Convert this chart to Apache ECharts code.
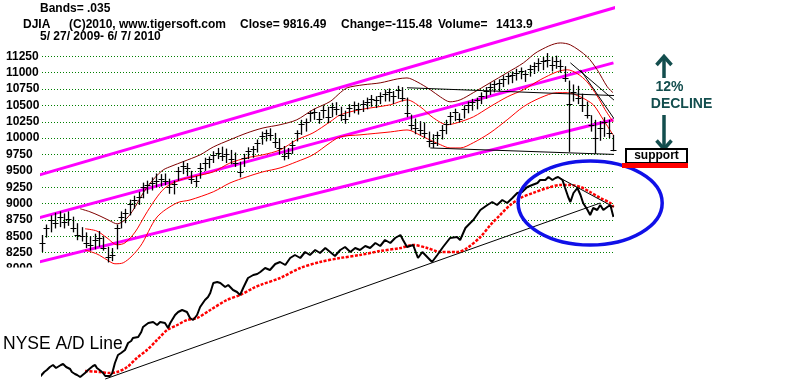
<!DOCTYPE html>
<html><head><meta charset="utf-8">
<script src="https://cdn.jsdelivr.net/npm/echarts@6.0.0/dist/echarts.min.js"></script>
<style>html,body{margin:0;padding:0;background:#fff}#c{width:800px;height:390px}</style>
</head><body><div id="c"></div>
<script>
// ---- price bars (slot index 0..130, 5/27/2009 - 6/7/2010) ----
const barHigh = [8520,8680,8820,8860,8880,8850,8880,8800,8700,8640,8560,8500,8540,8580,8500,8340,8320,8680,8880,8920,
9060,9120,9180,9320,9350,9400,9460,9450,9460,9380,9350,9560,9650,9620,9500,9420,9620,9700,9720,9800,
9850,9870,9840,9820,9780,9640,9760,9860,9880,9980,10100,10130,10150,10080,10000,9880,9850,9960,10120,10280,
10300,10420,10450,10400,10500,10480,10540,10550,10480,10420,10520,10560,10540,10580,10620,10660,10640,10700,10740,10760,
10720,10800,10780,10620,10360,10300,10260,10240,10100,10060,10100,10200,10280,10400,10450,10380,10500,10560,10600,10620,
10700,10780,10840,10880,10900,10960,11000,11020,11060,11080,11040,11120,11160,11220,11240,11300,11240,11260,11200,11100,
10880,10820,10800,10680,10560,10350,10280,10260,10320,10280,10050];
const barLow = [8260,8480,8560,8620,8640,8620,8660,8560,8440,8420,8320,8280,8300,8340,8280,8100,8120,8300,8620,8700,
8820,8920,8980,9080,9150,9200,9250,9260,9280,9150,9140,9350,9450,9420,9300,9250,9380,9500,9540,9620,
9680,9650,9620,9600,9560,9400,9560,9680,9700,9780,9900,9950,9960,9850,9750,9660,9680,9760,9950,10050,
10100,10250,10280,10220,10300,10230,10320,10350,10260,10220,10320,10380,10360,10400,10440,10480,10460,10520,10560,10560,
10520,10600,10560,10320,10120,10060,10040,10000,9860,9850,9880,9980,10060,10200,10260,10240,10300,10380,10420,10440,
10520,10600,10660,10700,10720,10780,10820,10840,10880,10900,10860,10940,10980,11020,11040,11080,11020,11060,11000,10860,
9790,10560,10520,10400,10300,10100,9760,9960,10020,10000,9800];
const barClose = [8400,8620,8750,8700,8800,8720,8760,8620,8520,8500,8400,8360,8450,8480,8320,8180,8220,8620,8800,8850,
9000,9050,9100,9250,9280,9320,9350,9380,9350,9250,9300,9500,9580,9550,9380,9340,9550,9620,9680,9750,
9780,9720,9760,9680,9620,9480,9700,9800,9840,9920,10040,10080,10050,9940,9850,9720,9780,9900,10080,10220,
10250,10380,10400,10300,10430,10320,10480,10450,10350,10300,10460,10500,10450,10520,10560,10600,10580,10640,10680,10700,
10650,10740,10620,10380,10200,10150,10120,10080,9950,9920,10050,10120,10220,10340,10400,10300,10440,10500,10550,10580,
10650,10720,10780,10820,10850,10900,10950,10970,11000,11030,10980,11060,11100,11150,11180,11200,11120,11180,11100,10920,
10520,10700,10620,10500,10360,10200,10000,10150,10250,10080,9816];

// ---- 21-day band lines: [slot, value] ----
const upperBand = [[8.7,8920],[10.9,8875],[13.2,8810],[15.5,8735],[17.1,8690],[18.9,8750],[20.5,8875],[23.5,9210],[25.7,9395],[27.6,9515],[29.6,9575],[32.1,9640],[36,9745],[39,9865],[42.8,9975],[46.7,10080],[50.3,10155],[54.2,10205],[58,10280],[61.7,10435],[65.6,10560],[68,10700],[69.5,10770],[73.1,10815],[77,10845],[80.9,10905],[83.1,10920],[85.4,10860],[88.4,10740],[90.7,10630],[92.9,10555],[95.2,10585],[98.2,10695],[102,10845],[105.9,11000],[109.6,11150],[112.8,11320],[118,11455],[120.3,11425],[124.1,11245],[126.4,11045],[128.7,10785],[130,10695]];
const midAvg = [[9.8,8615],[12.5,8580],[14.8,8475],[17.1,8370],[18.9,8400],[21.2,8565],[23.5,8825],[25.7,9055],[28,9240],[31.4,9360],[35,9420],[39,9485],[42.8,9620],[46.7,9700],[50.3,9745],[54.2,9820],[58,9975],[61.7,10080],[65.6,10250],[67.9,10355],[72.4,10435],[79.3,10510],[83.1,10585],[86.1,10480],[89.1,10310],[92.3,10205],[94.5,10235],[98.2,10325],[102,10480],[105.9,10630],[109.6,10740],[113.4,10890],[117.3,11015],[119.6,11045],[121.9,10985],[124.1,10860],[126.4,10645],[128.2,10435],[130,10250]];
const lowerBand = [[9.8,8290],[12.5,8230],[14.8,8140],[16.6,8080],[18.5,8095],[22.3,8340],[26.2,8795],[30.7,9010],[33.7,9055],[39,9180],[42.8,9315],[46.7,9410],[50.3,9485],[54.2,9545],[58,9640],[61.7,9745],[65.6,9930],[67.9,10020],[72.4,10050],[79.3,10095],[83.1,10125],[86.8,10020],[90.7,9900],[92.9,9850],[95.2,9850],[98.2,9930],[102,10080],[105.9,10280],[109.6,10480],[113.4,10615],[117.3,10695],[119.6,10695],[122.6,10630],[125.5,10510],[127.8,10280],[130,10050]];

// ---- channel lines and drawn trend lines on price panel ----
const channelTop = [[-2.05,9409],[146,12298]];
const channelMid = [[-1.6,8766],[130.1,11151]];
const channelLow = [[-1.6,8093],[130.1,10280]];
const resistLine = [[83.1,10770],[138.5,10630]];
const supportLine = [[88.4,9850],[132.8,9745]];
const peakLine1 = [[120.3,11151],[140.8,9974]];
const peakLine2 = [[122.6,11044],[133.3,9997]];

// ---- NYSE A/D line (arbitrary units) ----
const adLine = [[-0.5,500],[0.5,1000],[1.1,1200],[1.8,1500],[2.5,1700],[3.2,1400],[3.6,1400],[4.3,1700],[4.8,1800],[5.5,1500],[5.9,1600],[6.4,1300],[6.8,1000],[7.5,800],[8,700],[8.7,500],[9.1,400],[9.8,900],[10.5,1200],[10.9,1400],[11.6,1600],[12.1,1700],[12.5,1400],[12.8,1300],[13.4,1100],[13.9,900],[14.4,600],[14.8,400],[15.5,600],[16,900],[16.6,1900],[17.3,2700],[18,2900],[18.9,3200],[19.6,3900],[20.3,4100],[20.7,4400],[21.9,4500],[22.6,5000],[23,5500],[24.2,5900],[24.6,5700],[25.3,6000],[26.2,5700],[26.9,6000],[28,5900],[28.7,5400],[29.2,5900],[30.3,6700],[31,7000],[31.9,7200],[33,7000],[33.7,6400],[34.4,6200],[35.3,6700],[36,7500],[37.1,8200],[37.8,8500],[38.3,8900],[39,9900],[39.9,10000],[40.6,9900],[41.7,9500],[42.4,9700],[43.5,9200],[44.4,9000],[45.1,8700],[45.8,9400],[46.9,10400],[48.1,10700],[49,10800],[49.7,11000],
[50.8,11400],[51.9,11200],[53.1,11800],[54.2,12000],[55.4,11700],[56.5,12400],[57.6,12700],[58.8,12400],[59.9,13000],[61,12700],[62.2,13200],[63.3,12900],[64.5,13400],[65.6,13000],[66.7,12600],[67.9,13200],[69,13500],[70.2,13000],[71.3,13400],[72.4,13200],[73.6,13600],[74.7,13400],[75.9,13900],[77,13600],[78.1,14200],[79.3,13900],[80.4,14400],[81.6,14700],
[82.2,14200],[83.1,13500],[84.5,13700],[85.6,12400],[86.6,13000],[87.7,12500],[88.8,12000],[90,12700],[91.3,13500],[92.9,14400],[94.5,14500],[95.2,14200],[96.4,15400],[97.5,15900],[98.2,16200],[99.8,17200],[101.4,17700],[102.5,18000],[103.6,17700],[104.8,18200],[105.9,17900],[107.1,18400],[108.2,18900],[109.3,19000],[110.5,19500],[111.6,19700],[112.8,19900],[113.4,20200],[114.6,20200],[115.3,20500],[116.2,20200],[116.9,20400],[117.5,20500],[118.5,20200],[119.1,19400],[119.8,18500],[120.3,18000],[121,18900],[121.9,19400],[122.6,18700],[123.2,17900],[124.2,17200],[124.8,16700],[125.5,17400],[126.4,17200],[127.1,17700],[127.8,17200],[128.7,17500],[129.4,17700],[130.1,16500]];
const adAvg = [[9.8,1100],[13.2,1000],[15.5,900],[17.1,1000],[19.4,1500],[21.6,2400],[23.9,3200],[26.2,4200],[28.5,5200],[30.8,5700],[33,6200],[35.3,6400],[38.3,7200],[42.1,8200],[45.1,8700],[48.1,9400],[49.7,9700],[54.2,10400],[58.8,11400],[63.3,12000],[67.9,12400],[72.4,12700],[77,13100],[81.6,13400],[84.5,13700],[87.7,13400],[90.7,13000],[94.5,13000],[96.8,13400],[99.8,14500],[102.1,15700],[104.3,16700],[106.6,17700],[108.9,18400],[111.8,18900],[115,19400],[118,19700],[120.3,19700],[122.6,19500],[124.8,19000],[127.1,18400],[129.4,17900],[130.1,17500]];
const adTrend = [[14.4,300],[127.1,17900]];
const adArrow = [[117.5,20500],[136.9,15900]];
const adArrowHead = [[133.5,16000],[136.9,15900],[134.9,17100]];
const adCircle = [[124.8,17900,16.4,4200]];

const yTickMin = 8000, yTickMax = 11500, yTickStep = 250;

const FONT = '"Liberation Sans", Arial, sans-serif';
const chart = echarts.init(document.getElementById('c'), null, {renderer:'canvas'});

function lineSeries(data, color, width, xi, extra){
  return Object.assign({type:'line', data, xAxisIndex:xi, yAxisIndex:xi, symbol:'none', clip:false,
    lineStyle:{color, width}, silent:true, z:3}, extra||{});
}

const option = {
  animation:false,
  backgroundColor:'#fff',
  grid:[{left:42,right:187,top:40,bottom:121,outerBoundsMode:'none'},{left:42,right:187,top:170,bottom:8,outerBoundsMode:'none'}],
  xAxis:[
    {gridIndex:0,type:'value',min:0,max:130,show:false},
    {gridIndex:1,type:'value',min:0,max:130,show:false}
  ],
  yAxis:[
    {gridIndex:0,type:'value',min:yTickMin,max:yTickMax,interval:yTickStep,
      axisLine:{show:false},axisTick:{show:false},
      axisLabel:{show:true,align:'left',margin:36,fontWeight:'bold',fontSize:12,color:'#000',fontFamily:FONT,showMaxLabel:false,
        formatter:v=>String(v)},
      splitLine:{show:true,showMinLine:false,showMaxLine:false,lineStyle:{color:'#008000',type:[1,2],width:1}}},
    {gridIndex:1,type:'value',min:0,max:21200,show:false,splitLine:{show:false}}
  ],
  series:[
    lineSeries(channelTop,'#ff00ff',3,0),
    lineSeries(channelMid,'#ff00ff',3,0),
    lineSeries(channelLow,'#ff00ff',3,0),
    lineSeries(upperBand,'#800000',1,0,{smooth:0.3}),
    lineSeries(midAvg,'#ff0000',1,0,{smooth:0.3}),
    lineSeries(lowerBand,'#ff0000',1,0,{smooth:0.3}),
    lineSeries(resistLine,'#000',1,0),
    lineSeries(supportLine,'#000',1,0),
    lineSeries(peakLine1,'#000',1,0),
    lineSeries(peakLine2,'#000',1,0),
    {type:'custom', xAxisIndex:0, yAxisIndex:0, z:4, silent:true,
      data: barClose.map((c,i)=>[i,barHigh[i],barLow[i],c]),
      encode:{x:0,y:[1,2,3]},
      renderItem(params, api){
        const x = api.value(0);
        const hi = api.coord([x, api.value(1)]);
        const lo = api.coord([x, api.value(2)]);
        const cl = api.coord([x, api.value(3)]);
        const px = Math.round(hi[0]) + 0.5;
        const cy = Math.round(cl[1]) + 0.5;
        return {type:'group', children:[
          {type:'line', shape:{x1:px,y1:hi[1],x2:px,y2:lo[1]}, style:{stroke:'#000',lineWidth:1.3}},
          {type:'line', shape:{x1:px-3,y1:cy,x2:px+3,y2:cy}, style:{stroke:'#000',lineWidth:1}}
        ]};
      }
    },
    // A/D panel
    lineSeries(adTrend,'#000',1,1),
    lineSeries(adAvg,'#ff0000',2.5,1,{smooth:0.3,lineStyle:{color:'#ff0000',width:2.5,type:[3,1.5]}}),
    lineSeries(adLine,'#000',2,1,{z:5}),
    lineSeries(adArrow,'#000',1,1),
    lineSeries(adArrowHead,'#000',1,1),
    {type:'custom', xAxisIndex:1, yAxisIndex:1, z:6, silent:true, clip:false,
      data: adCircle, encode:{x:0,y:1},
      renderItem(params, api){
        const cx = api.value(0), cyv = api.value(1), rx = api.value(2), ry = api.value(3);
        const c = api.coord([cx,cyv]);
        const r1 = api.coord([cx+rx,cyv]);
        const r2 = api.coord([cx,cyv+ry]);
        return {type:'ellipse', shape:{cx:c[0],cy:c[1],rx:r1[0]-c[0],ry:c[1]-r2[1]},
          style:{fill:'none',stroke:'#1010e8',lineWidth:3.5}};
      }
    }
  ],
  graphic:[
    {type:'rect', z:100, shape:{x:0,y:267.5,width:41,height:12}, style:{fill:'#fff'}},
    {type:'text', z:100, style:{text:'Bands= .035', x:40, y:9, font:'bold 12px '+FONT, fill:'#000', verticalAlign:'middle'}},
    {type:'text', z:100, style:{text:'DJIA', x:23, y:25, font:'bold 12px '+FONT, fill:'#000', verticalAlign:'middle'}},
    {type:'text', z:100, style:{text:'(C)2010, www.tigersoft.com', x:69, y:25, font:'bold 12px '+FONT, fill:'#000', verticalAlign:'middle'}},
    {type:'text', z:100, style:{text:'Close=', x:240, y:25, font:'bold 12px '+FONT, fill:'#000', verticalAlign:'middle'}},
    {type:'text', z:100, style:{text:'9816.49', x:283, y:25, font:'bold 12px '+FONT, fill:'#000', verticalAlign:'middle'}},
    {type:'text', z:100, style:{text:'Change=-115.48', x:341, y:25, font:'bold 12px '+FONT, fill:'#000', verticalAlign:'middle'}},
    {type:'text', z:100, style:{text:'Volume=', x:438, y:25, font:'bold 12px '+FONT, fill:'#000', verticalAlign:'middle'}},
    {type:'text', z:100, style:{text:'1413.9', x:496, y:25, font:'bold 12px '+FONT, fill:'#000', verticalAlign:'middle'}},
    {type:'text', z:100, style:{text:'5/ 27/ 2009- 6/ 7/ 2010', x:40, y:37, font:'bold 12px '+FONT, fill:'#000', verticalAlign:'middle'}},
    {type:'text', z:100, style:{text:'NYSE A/D Line', x:3, y:344.5, font:'17.5px '+FONT, fill:'#000', verticalAlign:'middle'}},
    // decline annotation
    {type:'polyline', z:100, shape:{points:[[664,78],[664,57]]}, style:{stroke:'#134e4e',lineWidth:3.5,fill:'none'}},
    {type:'polyline', z:100, shape:{points:[[656.5,65],[664,56.5],[671.5,65]]}, style:{stroke:'#134e4e',lineWidth:3.5,fill:'none'}},
    {type:'text', z:100, style:{text:'12%', x:669.5, y:87, font:'bold 14px '+FONT, fill:'#134e4e', align:'center', verticalAlign:'middle'}},
    {type:'text', z:100, style:{text:'DECLINE', x:681.5, y:104.5, font:'bold 14px '+FONT, fill:'#134e4e', align:'center', verticalAlign:'middle'}},
    {type:'polyline', z:100, shape:{points:[[664,115],[664,148]]}, style:{stroke:'#134e4e',lineWidth:3.5,fill:'none'}},
    {type:'polyline', z:100, shape:{points:[[656.5,140.5],[664,149],[671.5,140.5]]}, style:{stroke:'#134e4e',lineWidth:3.5,fill:'none'}},
    {type:'rect', z:100, shape:{x:626,y:149,width:61,height:14}, style:{fill:'#fff',stroke:'#000',lineWidth:2}},
    {type:'text', z:101, style:{text:'support', x:656.5, y:156, font:'bold 12px '+FONT, fill:'#000', align:'center', verticalAlign:'middle'}},
    {type:'rect', z:100, shape:{x:622,y:163,width:66,height:5}, style:{fill:'#ff0000'}}
  ]
};
chart.setOption(option);
</script>
</body></html>
